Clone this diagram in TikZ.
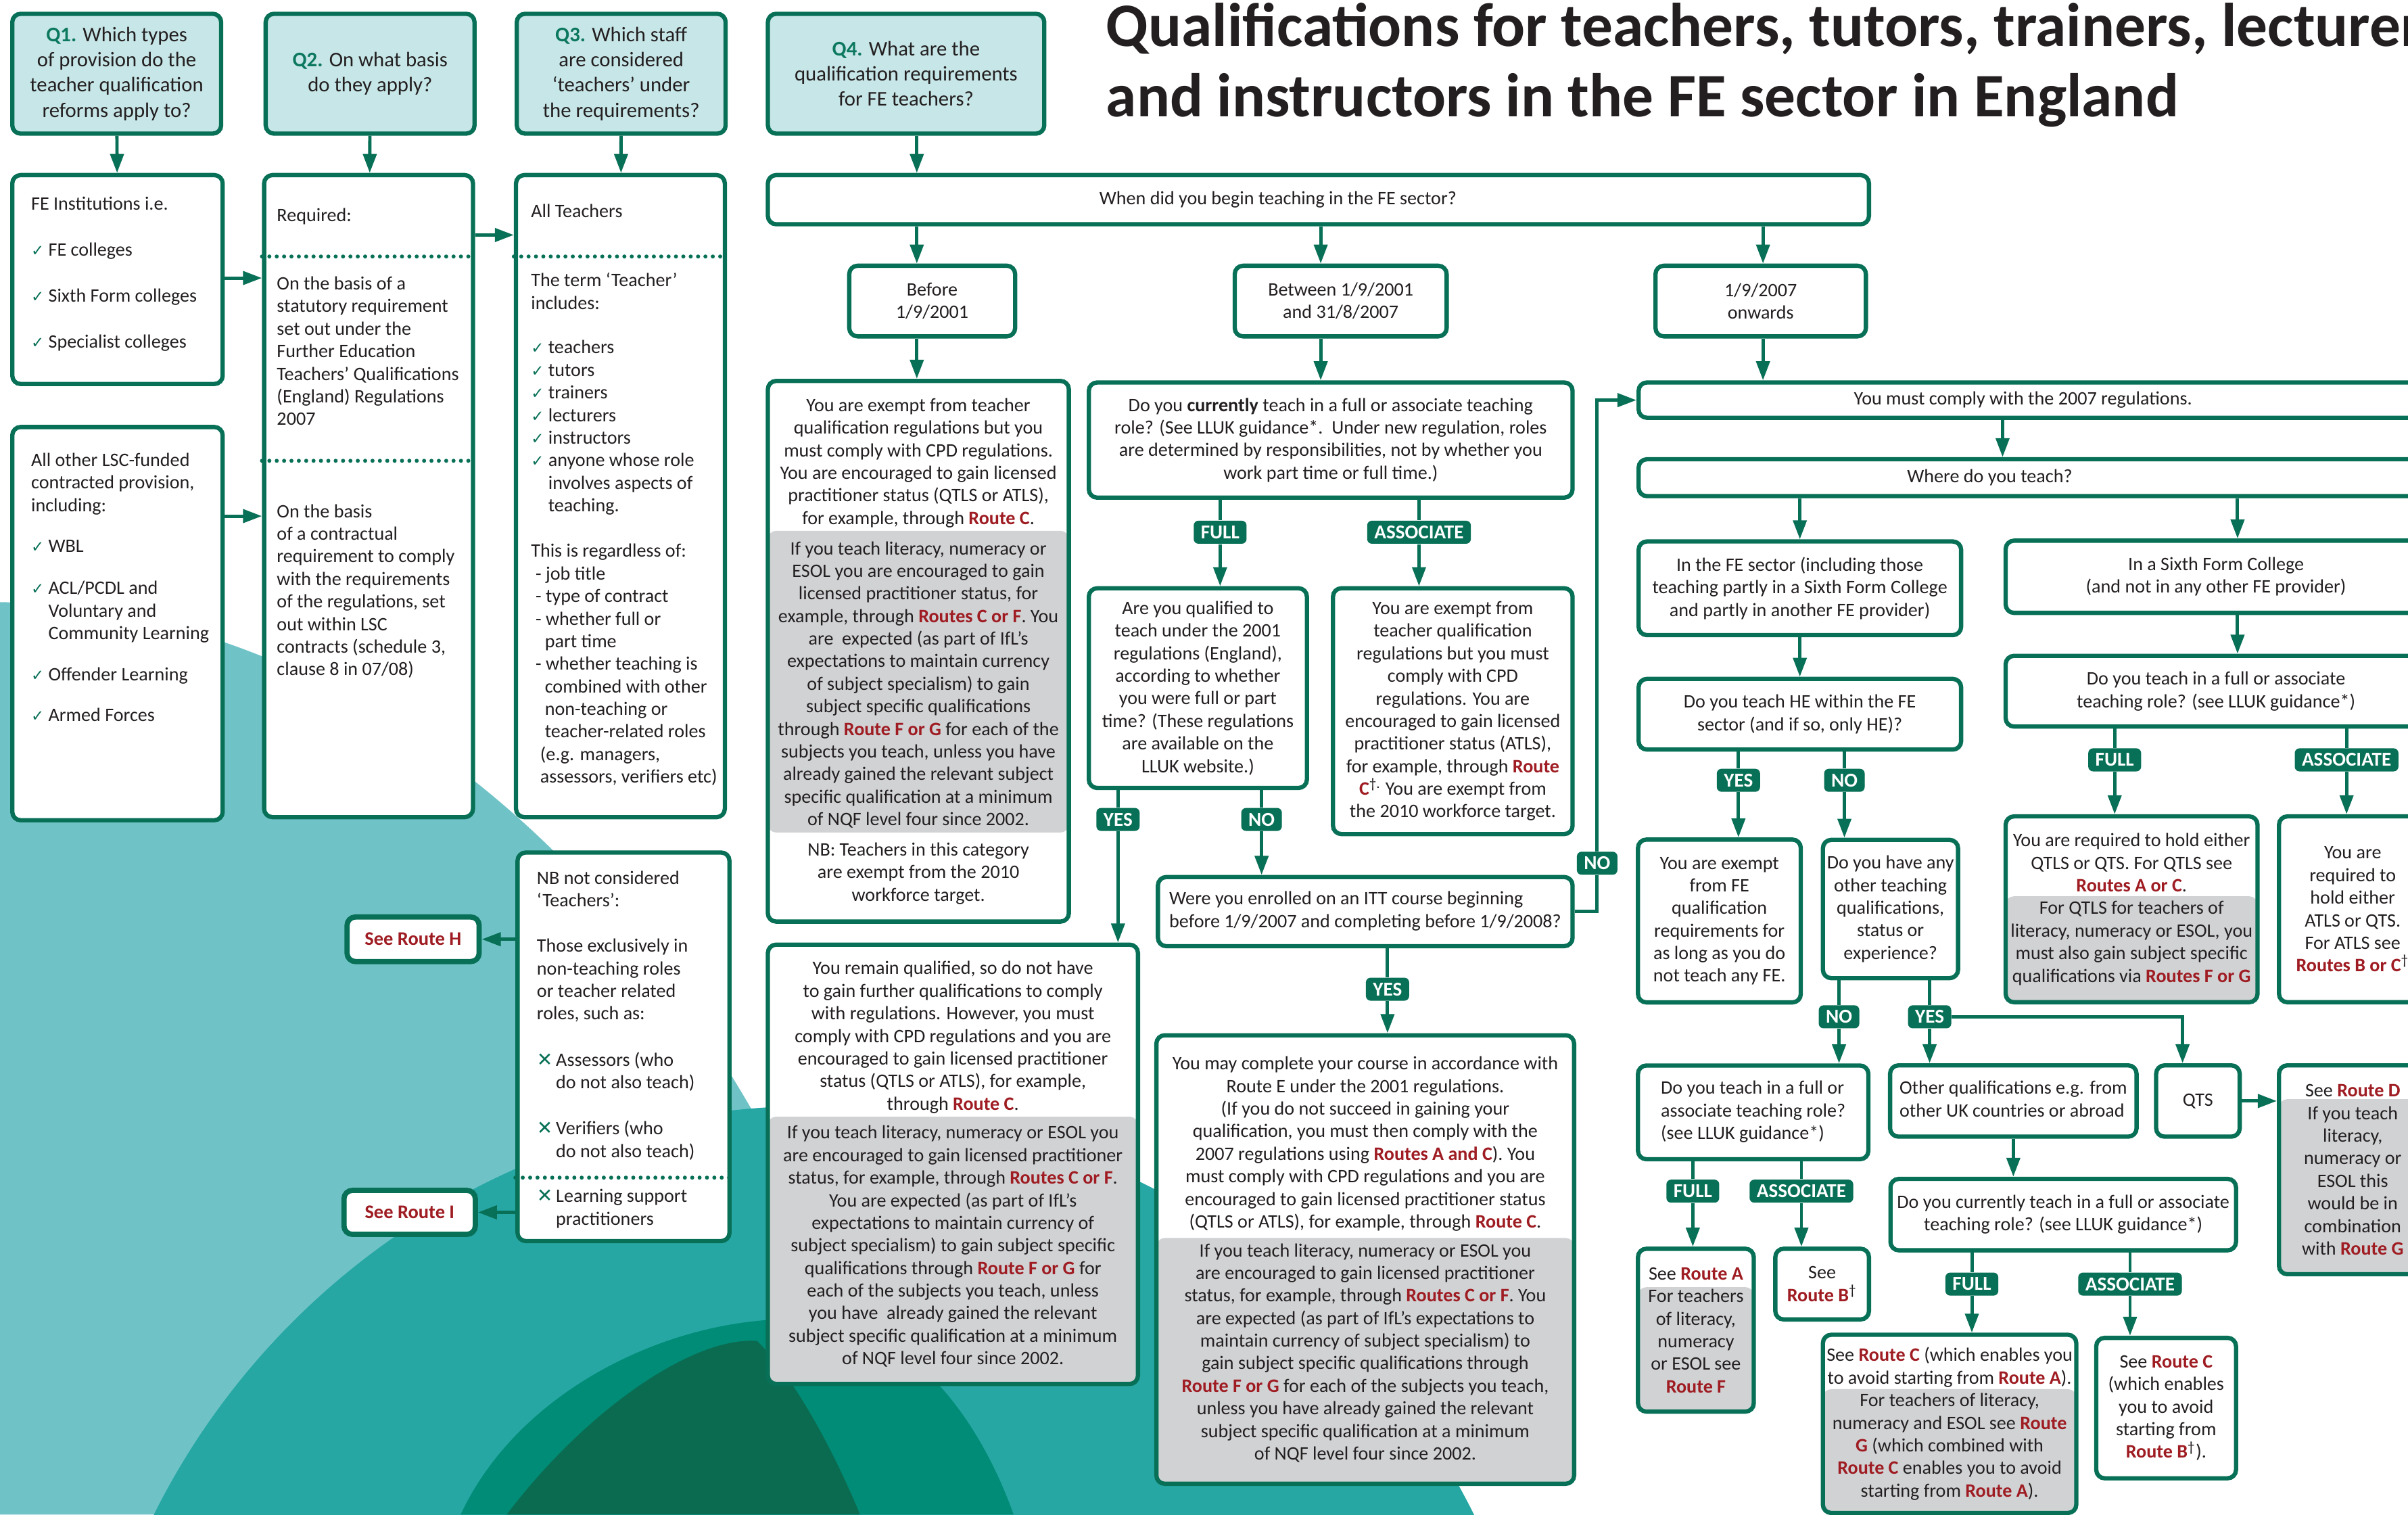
\documentclass[tikz,border=0pt]{standalone}
\usepackage{fontspec}
\setmainfont{Carlito}
\newfontfamily\symfont{DejaVu Sans}
\usetikzlibrary{arrows.meta}

\definecolor{qgreen}{RGB}{8,112,86}
\definecolor{qfill}{RGB}{199,230,231}
\definecolor{qnum}{RGB}{12,120,94}
\definecolor{routered}{RGB}{158,28,34}
\definecolor{boxgray}{RGB}{209,210,212}
\definecolor{ink}{RGB}{35,31,32}
\definecolor{bglight}{RGB}{111,195,199}
\definecolor{bgmid}{RGB}{38,167,164}
\definecolor{bggreen}{RGB}{0,140,118}
\definecolor{bgdark}{RGB}{11,107,80}

\newlength\unitpx
\setlength\unitpx{0.2271mm}

\newcommand\bodyfont{\fontsize{8}{9.5}\selectfont}
\newcommand\qfont{\fontsize{8.75}{10.6}\selectfont}
\newcommand\rt[1]{\textcolor{routered}{\bfseries #1}}
\newcommand\tick{{\symfont\fontsize{6.5}{6.5}\selectfont\textcolor{qgreen}{✓}}}
\newcommand\tickgap{\hphantom{\tick\ }}
\newcommand\cross{{\symfont\fontsize{8}{8}\selectfont\textcolor{qgreen}{✕}}}
\newcommand\crossgap{\hphantom{\cross\,}}
\newcommand\dg{\textsuperscript{†}}
\newcommand\qn[1]{\textcolor{qnum}{\bfseries #1}}

\tikzset{
  box/.style 2 args={draw=qgreen, line width=1.8pt, rounded corners=3.5pt, fill=white,
    minimum width=#1*\unitpx, minimum height=#2*\unitpx, inner sep=0pt,
    align=center, text=ink, font=\bodyfont},
  qbox/.style 2 args={box={#1}{#2}, fill=qfill, font=\qfont},
  seebox/.style 2 args={box={#1}{#2}, line width=2.2pt, text=routered,
    font=\fontsize{8.1}{9.5}\selectfont\bfseries},
  grayband/.style 2 args={path picture={
    \fill[boxgray] ([yshift=-#1*\unitpx]path picture bounding box.north west)
      rectangle ([yshift=-#2*\unitpx]path picture bounding box.north east);}},
  txt/.style={inner sep=0pt, align=left, text=ink, font=\bodyfont, anchor=north west},
  tag/.style={fill=qgreen, text=white, rounded corners=2pt, inner xsep=3pt, inner ysep=0pt,
    minimum height=15*\unitpx, font=\fontsize{8.3}{9}\selectfont\bfseries},
  link/.style={draw=qgreen, line width=1.4pt},
  arr/.style={link, -{Triangle[length=8pt, width=5.6pt]}},
  dotline/.style={draw=qgreen, line width=1.7pt, line cap=round, dash pattern=on 0pt off 3.1pt},
}

\begin{document}
\begin{tikzpicture}[x=\unitpx, y=-\unitpx]
\useasboundingbox (0,0) rectangle (1568,986);
\clip (0,0) rectangle (1568,986);
\fill[white] (0,0) rectangle (1568,986);

\fill[bglight] (0,392) .. controls (150,395) and (300,470) .. (420,620)
  .. controls (500,720) and (560,850) .. (600,986) -- (0,986) -- cycle;
\fill[bgmid] (530,1200) circle[radius=480];
\fill[bggreen] (300,986) .. controls (340,900) and (450,850) .. (540,860)
  .. controls (600,870) and (640,930) .. (660,986) -- cycle;
\fill[bgdark] (330,986) .. controls (380,920) and (450,870) .. (493,873)
  .. controls (520,900) and (545,950) .. (560,986) -- cycle;

\node[anchor=base west, inner sep=0pt, text=ink, font=\fontsize{26}{30}\selectfont\bfseries] (title-a) at (720,30)
  {Qualifications for teachers, tutors, trainers, lecturers};
\node[anchor=base west, inner sep=0pt, text=ink, font=\fontsize{26}{30}\selectfont\bfseries] (title-b) at (720,76)
  {and instructors in the FE sector in England};

\coordinate (colA) at (597,0);
\coordinate (colB) at (860,0);
\coordinate (colC) at (1148,0);
\coordinate (colD) at (1304,0);
\coordinate (colF) at (1457,0);

\node[qbox={136}{78}] (q1) at (76,48) {\qn{Q1.} Which types\\ of provision do the\\ teacher qualification\\ reforms apply to?};
\node[qbox={136}{78}] (q2) at (241,48) {\qn{Q2.} On what basis\\ do they apply?};
\node[qbox={136}{78}] (q3) at (404.5,48) {\qn{Q3.} Which staff\\ are considered\\ ‘teachers’ under\\ the requirements?};
\node[qbox={180}{78}] (q4) at (590,48) {\qn{Q4.} What are the\\ qualification requirements\\ for FE teachers?};

\node[box={137}{136}] (fe) at (76.5,182) {};
\node[txt] (fe-list) at (20,126) {\strut FE Institutions i.e.\\[9.9pt]
  \tick\ FE colleges\\[9.9pt] \tick\ Sixth Form colleges\\[9.9pt] \tick\ Specialist colleges};
\node[box={137}{256}] (lsc) at (76.5,406) {};
\node[txt] (lsc-list) at (20,293) {\strut All other LSC-funded\\ contracted provision,\\ including:\\[7.6pt]
  \tick\ WBL\\[8.3pt] \tick\ ACL/PCDL and\\ \tickgap Voluntary and\\ \tickgap Community Learning\\[7.9pt]
  \tick\ Offender Learning\\[7.6pt] \tick\ Armed Forces};

\node[box={136}{418}] (basis) at (240,323) {};
\node[txt] (basis-list) at (180,133.5) {\strut Required:\\[19.3pt]
  On the basis of a\\ statutory requirement\\ set out under the\\ Further Education\\
  Teachers’ Qualifications\\ (England) Regulations\\ 2007\\[29.3pt]
  On the basis\\ of a contractual\\ requirement to comply\\ with the requirements\\
  of the regulations, set\\ out within LSC\\ contracts (schedule 3,\\ clause 8 in 07/08)};
\draw[dotline] (basis.west |- 0,167) -- (basis.east |- 0,167);
\draw[dotline] (basis.west |- 0,300) -- (basis.east |- 0,300);

\node[box={136}{418}] (staff) at (404,323) {};
\node[txt] (staff-list) at (345.5,131) {\strut All Teachers\\[19.6pt]
  The term ‘Teacher’\\ includes:\\[9.2pt]
  \tick\ teachers\\ \tick\ tutors\\ \tick\ trainers\\ \tick\ lecturers\\ \tick\ instructors\\
  \tick\ anyone whose role\\ \tickgap involves aspects of\\ \tickgap teaching.\\[9.6pt]
  This is regardless of:\\ \hspace*{3\unitpx}- job title\\ \hspace*{3\unitpx}- type of contract\\
  \hspace*{3\unitpx}- whether full or\\ \hspace*{9\unitpx}part time\\ \hspace*{3\unitpx}- whether teaching is\\
  \hspace*{9\unitpx}combined with other\\ \hspace*{9\unitpx}non-teaching or\\ \hspace*{9\unitpx}teacher-related roles\\
  \hspace*{6\unitpx}(e.g. managers,\\ \hspace*{6\unitpx}assessors, verifiers etc)};
\draw[dotline] (staff.west |- 0,167) -- (staff.east |- 0,167);

\node[box={138}{253}] (nb) at (406,681.5) {};
\node[txt] (nb-list) at (349.3,565) {\strut NB not considered\\ ‘Teachers’:\\[9.6pt]
  Those exclusively in\\ non-teaching roles\\ or teacher related\\ roles, such as:\\[10pt]
  \cross\,Assessors (who\\ \crossgap do not also teach)\\[9.8pt]
  \cross\,Verifiers (who\\ \crossgap do not also teach)\\[9.5pt]
  \cross\,Learning support\\ \crossgap practitioners};
\draw[dotline] (nb.west |- 0,766.7) -- (nb.east |- 0,766.7);

\node[seebox={86}{29}] (routeh) at (269,611.5) {See Route H};
\node[seebox={85.5}{28.6}] (routei) at (266.75,789.3) {See Route I};

\draw[arr] (q1) -- (fe);
\draw[arr] (q2) -- (basis);
\draw[arr] (q3) -- (staff);
\draw[arr] (fe.east |- 0,181) -- (basis.west |- 0,181);
\draw[arr] (lsc.east |- 0,336) -- (basis.west |- 0,336);
\draw[arr] (basis.east |- 0,153) -- (staff.west |- 0,153);
\draw[arr] (nb.west |- routeh) -- (routeh.east);
\draw[arr] (nb.west |- routei) -- (routei.east);

\node[box={717}{32}] (when) at (858.5,130) {When did you begin teaching in the FE sector?\hspace*{34pt}};
\node[box={108}{46}] (before) at (607,196) {Before\\ 1/9/2001};
\node[box={138}{46}] (between) at (873,196) {Between 1/9/2001\\ and 31/8/2007};
\node[box={137}{46}] (onwards) at (1146.5,196) {1/9/2007\\ onwards};

\draw[arr] (q4.south -| colA) -- (when.north -| colA);
\draw[arr] (when.south -| colA) -- (before.north -| colA);
\draw[arr] (when.south -| colB) -- (between.north -| colB);
\draw[arr] (when.south -| colC) -- (onwards.north -| colC);

\node[box={196}{352}, grayband={97.6}{294}] (exempt) at (598,424) {You are exempt from teacher\\
  qualification regulations but you\\ must comply with CPD regulations.\\
  You are encouraged to gain licensed\\ practitioner status (QTLS or ATLS),\\
  for example, through \rt{Route C}.\\[3.2pt]
  If you teach literacy, numeracy or\\ ESOL you are encouraged to gain\\
  licensed practitioner status, for\\ example, through \rt{Routes C or F}. You\\
  are\ \ expected (as part of IfL's\\ expectations to maintain currency\\
  of subject specialism) to gain\\ subject specific qualifications\\
  through \rt{Route F or G} for each of the\\ subjects you teach, unless you have\\
  already gained the relevant subject\\ specific qualification at a minimum\\
  of NQF level four since 2002.\\[3.2pt]
  NB: Teachers in this category\\ are exempt from the 2010\\ workforce target.};
\draw[arr] (before.south -| colA) -- (exempt.north -| colA);

\node[box={315}{75}] (current) at (866.5,286.5) {Do you \textbf{currently} teach in a full or associate teaching\\
  role? (See LLUK guidance*.\ \ Under new regulation, roles\\
  are determined by responsibilities, not by whether you\\ work part time or full time.)};
\draw[arr] (between.south -| colB) -- (current.north -| colB);

\node[tag] (tfull1) at (794.5,346.5) {FULL};
\node[tag] (tassoc1) at (924,346.5) {ASSOCIATE};
\node[box={142}{130}] (qualified) at (780,448) {Are you qualified to\\ teach under the 2001\\
  regulations (England),\\ according to whether\\ you were full or part\\
  time? (These regulations\\ are available on the\\ LLUK website.)};
\node[box={156}{160}] (assocx) at (946,463) {You are exempt from\\ teacher qualification\\
  regulations but you must\\ comply with CPD\\ regulations. You are\\
  encouraged to gain licensed\\ practitioner status (ATLS),\\ for example, through \rt{Route}\\
  \rt{C}\textsuperscript{†.} You are exempt from\\ the 2010 workforce target.};
\draw[link] (current.south -| tfull1) -- (tfull1.north);
\draw[arr] (tfull1.south) -- (qualified.north -| tfull1);
\draw[link] (current.south -| tassoc1) -- (tassoc1.north);
\draw[arr] (tassoc1.south) -- (assocx.north -| tassoc1);

\node[tag] (tyes1) at (728,533.5) {YES};
\node[tag] (tno1) at (821.5,533.5) {NO};
\node[box={270}{45}] (enrolled) at (889,593.5) {\begin{tabular}{@{}l@{}}Were you enrolled on an ITT course beginning\\
  before 1/9/2007 and completing before 1/9/2008?\end{tabular}};
\node[box={241}{286}, grayband={112}{999}] (remain) at (620.5,758) {You remain qualified, so do not have\\
  to gain further qualifications to comply\\ with regulations. However, you must\\
  comply with CPD regulations and you are\\ encouraged to gain licensed practitioner\\
  status (QTLS or ATLS), for example,\\ through \rt{Route C}.\\[2.6pt]
  If you teach literacy, numeracy or ESOL you\\ are encouraged to gain licensed practitioner\\
  status, for example, through \rt{Routes C or F}.\\ You are expected (as part of IfL's\\
  expectations to maintain currency of\\ subject specialism) to gain subject specific\\
  qualifications through \rt{Route F or G} for\\ each of the subjects you teach, unless\\
  you have\ \ already gained the relevant\\ subject specific qualification at a minimum\\
  of NQF level four since 2002.};
\draw[link] (qualified.south -| tyes1) -- (tyes1.north);
\draw[arr] (tyes1.south) -- (remain.north -| tyes1);
\draw[link] (qualified.south -| tno1) -- (tno1.north);
\draw[arr] (tno1.south) -- (enrolled.north -| tno1);

\node[tag] (tyes2) at (903.5,644) {YES};
\node[box={272}{292}, grayband={132}{999}] (complete) at (889,820) {You may complete your course in accordance with\\
  Route E under the 2001 regulations.\\ (If you do not succeed in gaining your\\
  qualification, you must then comply with the\\ 2007 regulations using \rt{Routes A and C}). You\\
  must comply with CPD regulations and you are\\ encouraged to gain licensed practitioner status\\
  (QTLS or ATLS), for example, through \rt{Route C}.\\[2.6pt]
  If you teach literacy, numeracy or ESOL you\\ are encouraged to gain licensed practitioner\\
  status, for example, through \rt{Routes C or F}. You\\ are expected (as part of IfL's expectations to\\
  maintain currency of subject specialism) to\\ gain subject specific qualifications through\\
  \rt{Route F or G} for each of the subjects you teach,\\ unless you have already gained the relevant\\
  subject specific qualification at a minimum\\ of NQF level four since 2002.};
\draw[link] (enrolled.south -| tyes2) -- (tyes2.north);
\draw[arr] (tyes2.south) -- (complete.north -| tyes2);

\node[box={513}{23}] (comply) at (1323.5,260.5) {You must comply with the 2007 regulations.\hspace*{8pt}};
\node[box={513}{24}] (where) at (1323.5,311) {Where do you teach?\hspace*{36pt}};
\node[tag] (tno2) at (1040,562) {NO};
\draw[link] (enrolled.east) -| (tno2.south);
\draw[arr] (tno2.north) |- (comply.west);
\draw[arr] (onwards.south -| colC) -- (comply.north -| colC);
\draw[arr] (comply.south -| colD) -- (where.north -| colD);

\node[box={210}{61}] (fesector) at (1172,383) {In the FE sector (including those\\
  teaching partly in a Sixth Form College\\ and partly in another FE provider)};
\node[box={274}{47}] (sixth) at (1443,375.5) {In a Sixth Form College\\ (and not in any other FE provider)};
\node[box={210}{46}] (he) at (1172,465) {Do you teach HE within the FE\\ sector (and if so, only HE)?};
\node[box={274}{46}] (sixrole) at (1443,450) {Do you teach in a full or associate\\ teaching role? (see LLUK guidance*)};
\draw[arr] (where.south -| fesector) -- (fesector.north);
\draw[arr] (where.south -| colF) -- (sixth.north -| colF);
\draw[arr] (fesector) -- (he);
\draw[arr] (sixth.south -| colF) -- (sixrole.north -| colF);

\node[tag] (tyes3) at (1132,508) {YES};
\node[tag] (tno3) at (1201,508) {NO};
\node[box={106}{106}] (hexempt) at (1119.6,599.6) {You are exempt\\ from FE\\ qualification\\
  requirements for\\ as long as you do\\ not teach any FE.};
\node[box={88}{90}] (other) at (1231,591.8) {Do you have any\\ other teaching\\ qualifications,\\ status or\\ experience?};
\draw[link] (he.south -| tyes3) -- (tyes3.north);
\draw[arr] (tyes3.south) -- (hexempt.north -| tyes3);
\draw[link] (he.south -| tno3) -- (tno3.north);
\draw[arr] (tno3.south) -- (other.north -| tno3);

\node[tag] (tfull2) at (1377,494.7) {FULL};
\node[tag] (tassoc2) at (1528,494.7) {ASSOCIATE};
\node[box={164}{121}, grayband={52}{999}] (qtlsqts) at (1388,592) {You are required to hold either\\
  QTLS or QTS. For QTLS see\\ \rt{Routes A or C}.\\ For QTLS for teachers of\\
  literacy, numeracy or ESOL, you\\ must also gain subject specific\\ qualifications via \rt{Routes F or G}};
\node[box={96}{121}] (atlsqts) at (1532,592) {You are\\ required to\\ hold either\\ ATLS or QTS.\\
  For ATLS see\\ \rt{Routes B or C}\dg};
\draw[link] (sixrole.south -| tfull2) -- (tfull2.north);
\draw[arr] (tfull2.south) -- (qtlsqts.north -| tfull2);
\draw[link] (sixrole.south -| tassoc2) -- (tassoc2.north);
\draw[arr] (tassoc2.south) -- (atlsqts.north -| tassoc2);

\node[tag] (tno4) at (1197.5,662) {NO};
\node[tag] (tyes4) at (1256.5,662) {YES};
\node[box={150}{61}] (roleb) at (1141.6,724.2) {\begin{tabular}{@{}l@{}}Do you teach in a full or\\
  associate teaching role?\\ (see LLUK guidance*)\end{tabular}};
\node[box={160.5}{46.4}] (otherq) at (1311,716.8) {\begin{tabular}{@{}l@{}}Other qualifications e.g. from\\
  other UK countries or abroad\end{tabular}};
\node[box={54.4}{46.4}] (qts) at (1431.2,716.8) {QTS};
\node[box={96}{136}, grayband={22}{999}] (routed) at (1532,761.6) {See \rt{Route D}\\ If you teach\\
  literacy,\\ numeracy or\\ ESOL this\\ would be in\\ combination\\ with \rt{Route G}};
\draw[link] (other.south -| tno4) -- (tno4.north);
\draw[arr] (tno4.south) -- (roleb.north -| tno4);
\draw[link] (other.south -| tyes4) -- (tyes4.north);
\draw[arr] (tyes4.south) -- (otherq.north -| tyes4);
\draw[arr] (tyes4.east) -| ([xshift=-10*\unitpx]qts.north);
\draw[arr] (qts.east) -- (qts.east -| routed.west);

\node[tag] (tfull3) at (1102.3,775.5) {FULL};
\node[tag] (tassoc3) at (1173,775.5) {ASSOCIATE};
\node[box={75.4}{106}, grayband={25}{999}] (routea) at (1104.3,866) {See \rt{Route A}\\ For teachers\\
  of literacy,\\ numeracy\\ or ESOL see\\ \rt{Route F}};
\node[box={61}{46}] (routeb) at (1186.5,836) {See\\ \rt{Route B}\dg};
\draw[link] (roleb.south -| tfull3) -- (tfull3.north);
\draw[arr] (tfull3.south) -- (routea.north -| tfull3);
\draw[link] (roleb.south -| tassoc3) -- (tassoc3.north);
\draw[arr] (tassoc3.south) -- (routeb.north -| tassoc3);

\node[box={225}{46.5}] (currently2) at (1343.5,790.75) {Do you currently teach in a full or associate\\
  teaching role? (see LLUK guidance*)};
\draw[arr] (otherq.south) -- (otherq.south |- currently2.north);

\node[tag] (tfull4) at (1284,836) {FULL};
\node[tag] (tassoc4) at (1387,836) {ASSOCIATE};
\node[box={165}{116}, grayband={35.4}{999}] (routec1) at (1269.5,927) {See \rt{Route C} (which enables you\\
  to avoid starting from \rt{Route A}).\\ For teachers of literacy,\\ numeracy and ESOL see \rt{Route}\\
  \rt{G} (which combined with\\ \rt{Route C} enables you to avoid\\ starting from \rt{Route A}).};
\node[box={91}{91.4}] (routec2) at (1410.5,916.7) {See \rt{Route C}\\ (which enables\\ you to avoid\\
  starting from\\ \rt{Route B}\dg).};
\draw[link] (currently2.south -| tfull4) -- (tfull4.north);
\draw[arr] (tfull4.south) -- (routec1.north -| tfull4);
\draw[link] (currently2.south -| tassoc4) -- (tassoc4.north);
\draw[arr] (tassoc4.south) -- (routec2.north -| tassoc4);

\end{tikzpicture}
\end{document}
